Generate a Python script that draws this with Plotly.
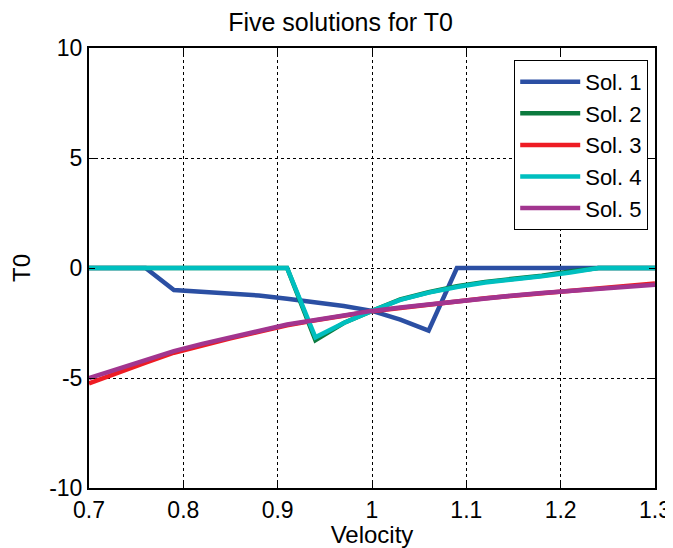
import plotly.graph_objects as go

velocity = [0.70, 0.73, 0.76, 0.79, 0.82, 0.85, 0.88, 0.91, 0.94, 0.97, 1.00,
            1.03, 1.06, 1.09, 1.12, 1.15, 1.18, 1.21, 1.24, 1.27, 1.30]

sol1 = [0, 0, 0, -1.0, -1.07, -1.13, -1.25, -1.40, -1.55, -1.73, -1.95,
        -2.35, -2.85, 0, 0, 0, 0, 0, 0, 0, 0]
sol2 = [0, 0, 0, 0, 0, 0, 0, 0, -3.28, -2.50, -1.95,
        -1.43, -1.10, -0.83, -0.63, -0.50, -0.35, -0.16, 0, 0, 0]
sol3 = [-5.25, -4.75, -4.30, -3.85, -3.50, -3.20, -2.90, -2.60, -2.38, -2.17, -1.97,
        -1.82, -1.66, -1.51, -1.38, -1.26, -1.14, -1.03, -0.92, -0.81, -0.70]
sol4 = [0, 0, 0, 0, 0, 0, 0, 0, -3.15, -2.50, -1.95,
        -1.45, -1.12, -0.86, -0.66, -0.53, -0.38, -0.20, 0, 0, 0]
sol5 = [-5.00, -4.60, -4.18, -3.78, -3.45, -3.15, -2.85, -2.57, -2.36, -2.15, -1.95,
        -1.80, -1.65, -1.50, -1.37, -1.25, -1.14, -1.04, -0.94, -0.85, -0.76]

names = ["Sol. 1", "Sol. 2", "Sol. 3", "Sol. 4", "Sol. 5"]
colors = ["#2B4FA3", "#0B7A3E", "#EE1C24", "#00BFBF", "#A2358F"]
series = [sol1, sol2, sol3, sol4, sol5]

fig = go.Figure()
for name, color, ys in zip(names, colors, series):
    fig.add_trace(go.Scatter(x=velocity, y=ys, mode="lines", name=name,
                             line=dict(color=color, width=4.5)))

font = "Liberation Sans, Arial, sans-serif"
axis_common = dict(
    showline=True, linecolor="black", linewidth=2, mirror="ticks",
    ticks="inside", ticklen=6, tickcolor="black", tickwidth=1,
    showgrid=True, gridcolor="black", griddash="dot", gridwidth=1,
    zeroline=False, automargin=False,
    tickfont=dict(family=font, size=23, color="black"),
)

# The page body has an 8px margin, so the figure is sized 8px smaller
fig.update_layout(
    width=665, height=540,
    margin=dict(l=81, r=18, t=40, b=60),
    paper_bgcolor="white", plot_bgcolor="white",
    title=dict(text="Five solutions for T0", x=0.5, xanchor="center",
               y=0.99, yanchor="top", pad=dict(t=0, b=0),
               font=dict(family=font, size=25, color="black")),
    xaxis=dict(range=[0.7, 1.3], tickvals=[0.7, 0.8, 0.9, 1.0, 1.1, 1.2, 1.3],
               ticktext=["0.7", "0.8", "0.9", "1", "1.1", "1.2", "1.3"],
               title=dict(text="Velocity", font=dict(family=font, size=24, color="black"),
                          standoff=0),
               **axis_common),
    yaxis=dict(range=[-10, 10], tickvals=[-10, -5, 0, 5, 10],
               ticktext=["-10", "-5", "0", "5", "10"],
               title=dict(text="T0", font=dict(family=font, size=24, color="black"),
                          standoff=12),
               **axis_common),
    legend=dict(x=0.988, y=0.973, xanchor="right", yanchor="top",
                bordercolor="black", borderwidth=1, bgcolor="white",
                font=dict(family=font, size=22, color="black"),
                itemwidth=60, tracegroupgap=0),
    showlegend=True,
)

fig.write_html("out.html")
